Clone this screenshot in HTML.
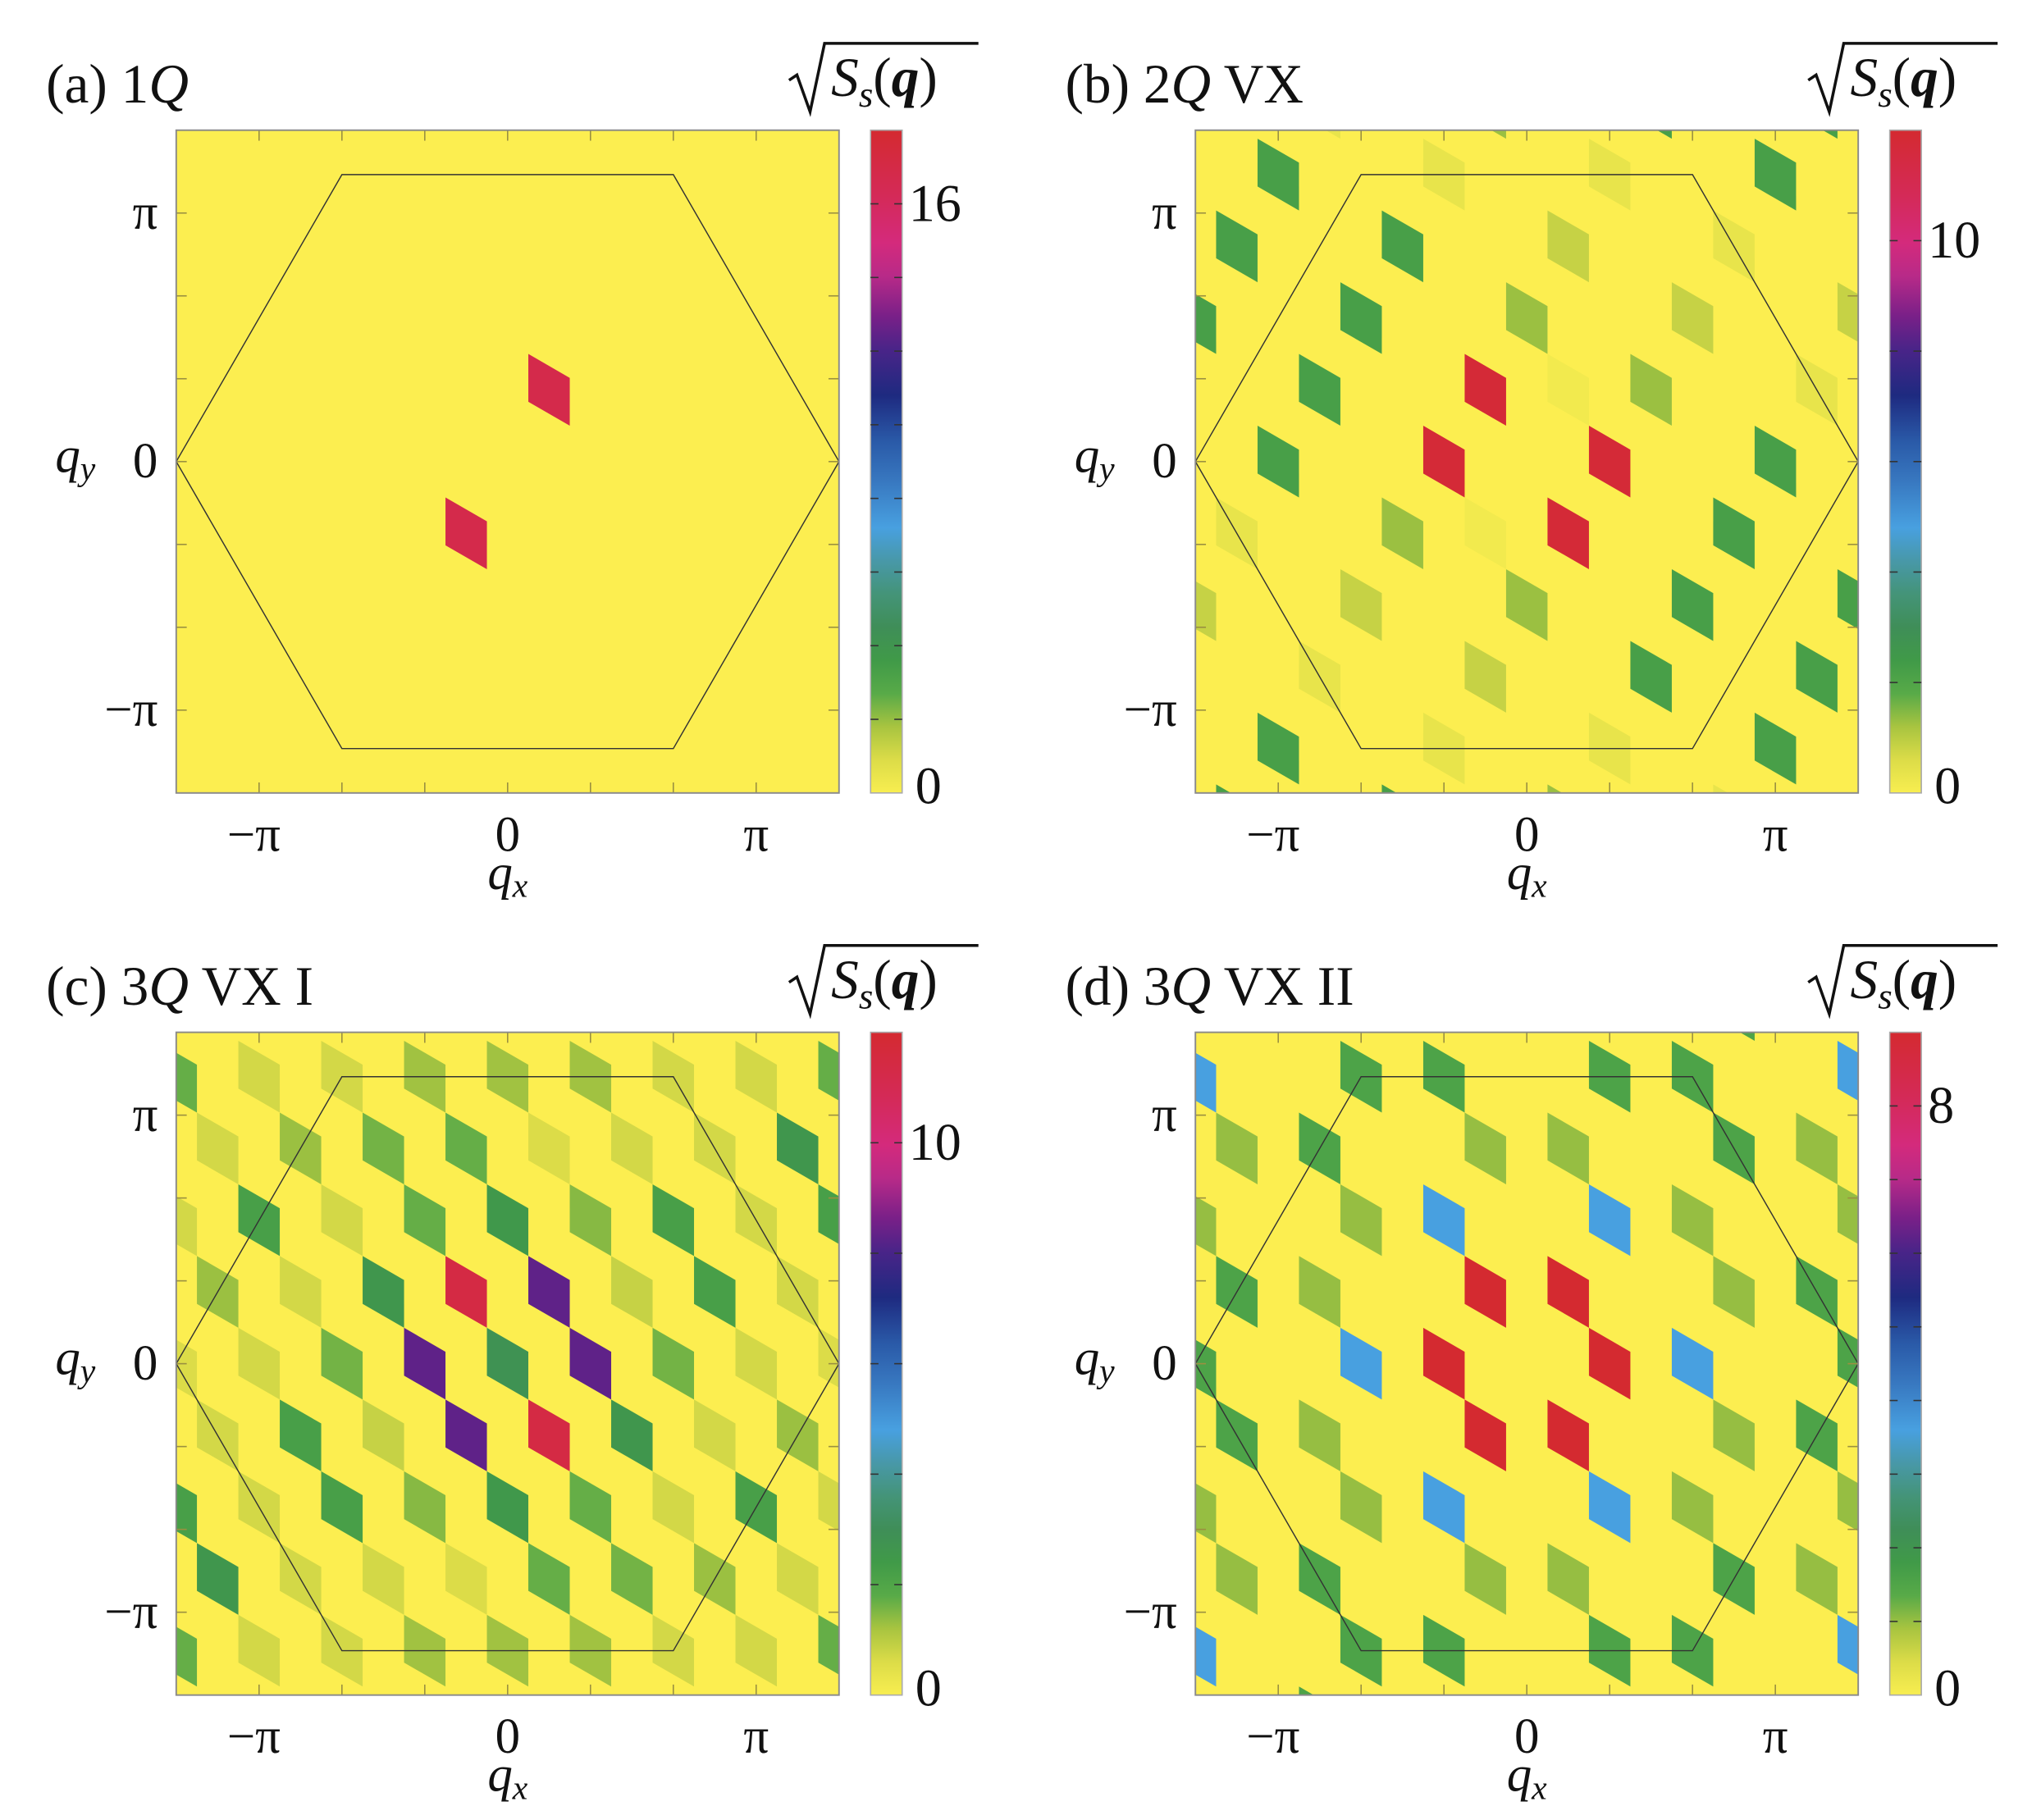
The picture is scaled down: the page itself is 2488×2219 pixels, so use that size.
<!DOCTYPE html>
<html>
<head>
<meta charset="utf-8">
<style>
html,body{margin:0;padding:0;background:#fff;}
svg{display:block;}
text{font-family:"Liberation Serif","DejaVu Serif",serif;fill:#111;}
</style>
</head>
<body>
<svg id="fig" xmlns="http://www.w3.org/2000/svg" width="2488" height="2219" viewBox="0 0 1552 1384" preserveAspectRatio="none">
<defs>
<linearGradient id="cbgrad" x1="0" y1="1" x2="0" y2="0">
<stop offset="0" stop-color="#f8ee50"/>
<stop offset="0.05" stop-color="#dcdc48"/>
<stop offset="0.10" stop-color="#a8c440"/>
<stop offset="0.15" stop-color="#58aa48"/>
<stop offset="0.20" stop-color="#409a48"/>
<stop offset="0.25" stop-color="#3f8e58"/>
<stop offset="0.30" stop-color="#449478"/>
<stop offset="0.35" stop-color="#4898a8"/>
<stop offset="0.40" stop-color="#48a0e0"/>
<stop offset="0.47" stop-color="#3878c0"/>
<stop offset="0.53" stop-color="#2a5aa8"/>
<stop offset="0.60" stop-color="#1e2a80"/>
<stop offset="0.67" stop-color="#4a2488"/>
<stop offset="0.72" stop-color="#7a2088"/>
<stop offset="0.78" stop-color="#b82a88"/>
<stop offset="0.83" stop-color="#d42a7c"/>
<stop offset="0.90" stop-color="#d42a58"/>
<stop offset="1" stop-color="#d42a30"/>
</linearGradient>
</defs>
</svg>
<script>
// ---- data ----
const panelTitles = ["(a) 1", "(b) 2", "(c) 3", "(d) 3"];
const panelSuffix = ["", " VX", " VX I", " VX II"];
const colorMax = [18, 12, 12, 9];
const colorTickStep = [2, 2, 2, 1];
const colorLabelValue = [16, 10, 10, 8];
const xTickLabels = ["\u2212\u03c0", "0", "\u03c0"];
const yTickLabels = ["\u03c0", "0", "\u2212\u03c0"];
// cells: [m, n, sqrt(S)]
const cellsA = [[1,-2,16.8],[-1,2,16.8]];
const cellsB = [
[-8,1,2.2],[-7,-1,2.2],[-6,-3,2.2],[-6,3,2.2],[-5,1,2.2],[-4,-1,2.2],[-3,-3,2.2],[-2,-5,0.35],[2,-7,0.35],[1,-5,0.85],[5,-7,0.35],[6,-9,2.2],[3,-9,2.2],[7,-11,2.2],[-1,-7,1.3],[-5,-5,0.35],[0,-3,1.3],[4,-5,0.85],[8,-7,0.85],[1,-2,0.12],[3,-3,1.3],[7,-5,0.35],
[-1,-1,11.8],[-2,1,11.8],[2,-1,11.8],[1,1,11.8],
[8,-1,2.2],[7,1,2.2],[6,3,2.2],[6,-3,2.2],[5,-1,2.2],[4,1,2.2],[3,3,2.2],[2,5,0.35],[-2,7,0.35],[-1,5,0.85],[-5,7,0.35],[-6,9,2.2],[-3,9,2.2],[-7,11,2.2],[1,7,1.3],[5,5,0.35],[0,3,1.3],[-4,5,0.85],[-8,7,0.85],[-1,2,0.12],[-3,3,1.3],[-7,5,0.35]
];
const cellsC = [
[-8,-2,1.7],[-8,1,0.7],[-8,4,0.6],[-8,7,2.2],[-8,10,1.7],[-7,-1,0.7],[-7,2,1.3],[-7,5,0.7],[-7,8,2.6],
[-6,-3,0.7],[-6,0,2.2],[-6,3,0.7],[-6,6,0.7],[-6,9,0.7],[-5,-2,1.3],[-5,1,0.7],[-5,4,2.2],[-5,7,0.7],
[-4,-4,0.7],[-4,-1,0.7],[-4,2,1.6],[-4,5,2.2],[-4,8,0.7],[-3,-3,1.6],[-3,0,2.6],[-3,3,0.85],[-3,6,0.7],
[-2,-5,1.25],[-2,-2,1.7],[-2,1,8.3],[-2,4,1.45],[-2,7,1.25],[-1,-4,1.7],[-1,-1,11.4],[-1,2,8.3],[-1,5,0.6],
[0,-6,1.25],[0,-3,2.5],[0,0,2.8],[0,3,2.5],[0,6,1.25],
[1,-5,0.6],[1,-2,8.3],[1,1,11.4],[1,4,1.7],[2,-7,1.25],[2,-4,1.45],[2,-1,8.3],[2,2,1.7],[2,5,1.25],
[3,-6,0.7],[3,-3,0.85],[3,0,2.6],[3,3,1.6],[4,-8,0.7],[4,-5,2.2],[4,-2,1.6],[4,1,0.7],[4,4,0.7],
[5,-7,0.7],[5,-4,2.2],[5,-1,0.7],[5,2,1.3],[6,-9,0.7],[6,-6,0.7],[6,-3,0.7],[6,0,2.2],[6,3,0.7],
[7,-8,2.6],[7,-5,0.7],[7,-2,1.3],[7,1,0.7],[8,-10,1.7],[8,-7,2.2],[8,-4,0.6],[8,-1,0.7],[8,2,1.7]
];
const cellsD = [
[-1,-1,9],[1,-2,9],[-2,1,9],[2,-1,9],[-1,2,9],[1,1,9],
[-2,-2,3.6],[2,-4,3.6],[-4,2,3.6],[4,-2,3.6],[-2,4,3.6],[2,2,3.6],[-8,-2,3.6],[8,-10,3.6],[-8,10,3.6],[8,2,3.6],
[-4,-4,1.55],[-2,-5,1.55],[2,-7,1.55],[4,-8,1.55],[-5,-2,1.55],[5,-7,1.55],[-7,2,1.55],[7,-5,1.55],[-8,4,1.55],[8,-4,1.55],
[-7,5,1.55],[7,-2,1.55],[-5,7,1.55],[5,2,1.55],[-4,8,1.55],[-2,7,1.55],[2,5,1.55],[4,4,1.55],[-5,10,1.55],[5,-10,1.55],
[-7,-1,1.0],[-1,-4,1.0],[1,-5,1.0],[7,-8,1.0],[-4,-1,1.0],[4,-5,1.0],[-8,1,1.0],[8,-7,1.0],[-5,1,1.0],[5,-4,1.0],
[-5,4,1.0],[5,-1,1.0],[-4,5,1.0],[4,1,1.0],[-8,7,1.0],[8,-1,1.0],[-7,8,1.0],[-1,5,1.0],[1,4,1.0],[7,1,1.0]
];
const panelCells = [cellsA, cellsB, cellsC, cellsD];
const panelNames = ["a","b","c","d"];

// ---- colormap ----
const cmapPos = [0,0.05,0.10,0.15,0.20,0.25,0.30,0.35,0.40,0.47,0.53,0.60,0.67,0.72,0.78,0.83,0.90,1];
const cmapCol = ["#f8ee50","#dcdc48","#a8c440","#58aa48","#409a48","#3f8e58","#449478","#4898a8","#48a0e0","#3878c0","#2a5aa8","#1e2a80","#4a2488","#7a2088","#b82a88","#d42a7c","#d42a58","#d42a30"];
function hex2rgb(h){return [parseInt(h.substr(1,2),16),parseInt(h.substr(3,2),16),parseInt(h.substr(5,2),16)];}
function cmap(f){
  f=Math.max(0,Math.min(1,f));
  for(let i=1;i<cmapPos.length;i++){
    if(f<=cmapPos[i]){
      const t=(f-cmapPos[i-1])/(cmapPos[i]-cmapPos[i-1]);
      const a=hex2rgb(cmapCol[i-1]), b=hex2rgb(cmapCol[i]);
      return "rgb("+a.map((c,k)=>Math.round(c+(b[k]-c)*t)).join(",")+")";
    }
  }
  return cmapCol[cmapCol.length-1];
}

// ---- layout ----
const NS="http://www.w3.org/2000/svg";
const svg=document.getElementById("fig");
function mk(tag,attrs,parent){const e=document.createElementNS(NS,tag);for(const k in attrs)e.setAttribute(k,attrs[k]);(parent||svg).appendChild(e);return e;}
const PS=504, HALF=252;
const S=189/Math.PI; // px per unit q
const U=[S*Math.PI/6, S*Math.PI/6*Math.tan(Math.PI/6)];
const V=[0, 2*U[1]];
const origins=[[134,99],[909,99],[134,785],[909,785]];

origins.forEach((o,pi)=>{
  const x0=o[0], y0=o[1], cx=x0+HALF, cy=y0+HALF;
  const g=mk("g",{});
  
  
  const clipId="clip"+pi;
  const cp=mk("clipPath",{id:clipId},g);
  mk("rect",{x:x0,y:y0,width:PS,height:PS},cp);
  const bg=mk("rect",{x:x0,y:y0,width:PS,height:PS,fill:"#fcee50"},g);
  
  
  const cg=mk("g",{"clip-path":"url(#"+clipId+")"},g);
  const vmax=colorMax[pi];
  panelCells[pi].forEach(c=>{
    const m=c[0], n=c[1], val=c[2];
    const X=cx+m*U[0], Y=cy+m*U[1]+n*V[1];
    const hu0=U[0]/2, hu1=U[1]/2, hv=V[1]/2;
    const pts=[[X-hu0,Y-hu1-hv],[X+hu0,Y+hu1-hv],[X+hu0,Y+hu1+hv],[X-hu0,Y-hu1+hv]];
    const p=mk("polygon",{points:pts.map(q=>q[0].toFixed(2)+","+q[1].toFixed(2)).join(" "),fill:cmap(val/vmax)},cg);
    
    
  });
  // hexagon (Brillouin zone)
  const hx=4*Math.PI/3*S, hx2=2*Math.PI/3*S, hy=2*Math.PI/Math.sqrt(3)*S;
  const hex=mk("polygon",{points:[[cx-hx,cy],[cx-hx2,cy-hy],[cx+hx2,cy-hy],[cx+hx,cy],[cx+hx2,cy+hy],[cx-hx2,cy+hy]].map(q=>q.join(",")).join(" "),fill:"none",stroke:"#333",
    "stroke-width":"0.9"},cg);
  
  
  // ticks
  const tg=mk("g",{stroke:"#9a9040","stroke-width":"1"},g);
  for(let k=-3;k<=3;k++){
    const d=k*Math.PI/3*S;
    mk("line",{x1:cx+d,y1:y0,x2:cx+d,y2:y0+8},tg);
    mk("line",{x1:cx+d,y1:y0+PS,x2:cx+d,y2:y0+PS-8},tg);
    mk("line",{x1:x0,y1:cy+d,x2:x0+8,y2:cy+d},tg);
    mk("line",{x1:x0+PS,y1:cy+d,x2:x0+PS-8,y2:cy+d},tg);
  }
  const fr=mk("rect",{x:x0,y:y0,width:PS,height:PS,fill:"none",stroke:"#8a8a8a","stroke-width":"1.2"},g);
  
  
  // tick labels
  const xt=[-Math.PI,0,Math.PI];
  xt.forEach((q,i)=>{
    const t=mk("text",{x:cx+q*S-(i===0?4:0),y:y0+PS+44,"font-size":"38","text-anchor":"middle"},g);
    t.textContent=xTickLabels[i];
    
    
  });
  const yt=[Math.PI,0,-Math.PI];
  yt.forEach((q,i)=>{
    const t=mk("text",{x:x0-14,y:cy-q*S+12,"font-size":"38","text-anchor":"end"},g);
    t.textContent=yTickLabels[i];
    
    
  });
  // axis titles
  const xl=mk("text",{x:cx,y:y0+PS+73,"font-size":"38","text-anchor":"middle","font-style":"italic"},g);
  xl.innerHTML='q<tspan font-size="26" dy="6">x</tspan>';
  
  
  const yl=mk("text",{x:x0-92,y:cy+8,"font-size":"38","font-style":"italic"},g);
  yl.innerHTML='q<tspan font-size="26" dy="6">y</tspan>';
  
  
  // title
  const ti=mk("text",{x:x0-99,y:y0-21,"font-size":"42"},g);
  ti.innerHTML=panelTitles[pi]+'<tspan font-style="italic">Q</tspan>'+panelSuffix[pi];
  
  
  // colorbar
  const bx=x0+PS+24, bw=24;
  const cb=mk("rect",{x:bx,y:y0,width:bw,height:PS,fill:"url(#cbgrad)",stroke:"#aaa","stroke-width":"1"},g);
  
  
  const ctg=mk("g",{stroke:"#333","stroke-width":"1"},g);
  for(let v=colorTickStep[pi]; v<vmax-0.001; v+=colorTickStep[pi]){
    const yy=y0+PS-v/vmax*PS;
    mk("line",{x1:bx,y1:yy,x2:bx+6,y2:yy},ctg);
    mk("line",{x1:bx+bw-6,y1:yy,x2:bx+bw,y2:yy},ctg);
  }
  [colorLabelValue[pi],0].forEach(v=>{
    const t=mk("text",{x:bx+bw+(v===0?10:5),y:y0+PS-v/vmax*PS+(v===0?8:13),"font-size":"40"},g);
    t.textContent=String(v);
    
    
  });
  // colorbar title sqrt(S_s(q))
  const rg=mk("g",{},g);
  
  
  const rx=bx-62;
  mk("path",{d:"M"+(rx)+","+(y0-38)+" l6,-4 l10,28 l11,-52 l"+(bx+bw+58-(rx+27))+",0",fill:"none",stroke:"#111","stroke-width":"2.2"},rg);
  const st=mk("text",{x:rx+32,y:y0-26,"font-size":"42"},rg);
  st.innerHTML='<tspan font-style="italic">S</tspan><tspan font-style="italic" font-size="28" dy="8">s</tspan><tspan dy="-8">(</tspan><tspan font-style="italic" font-weight="bold">q</tspan>)';
});
</script>
</body>
</html>
